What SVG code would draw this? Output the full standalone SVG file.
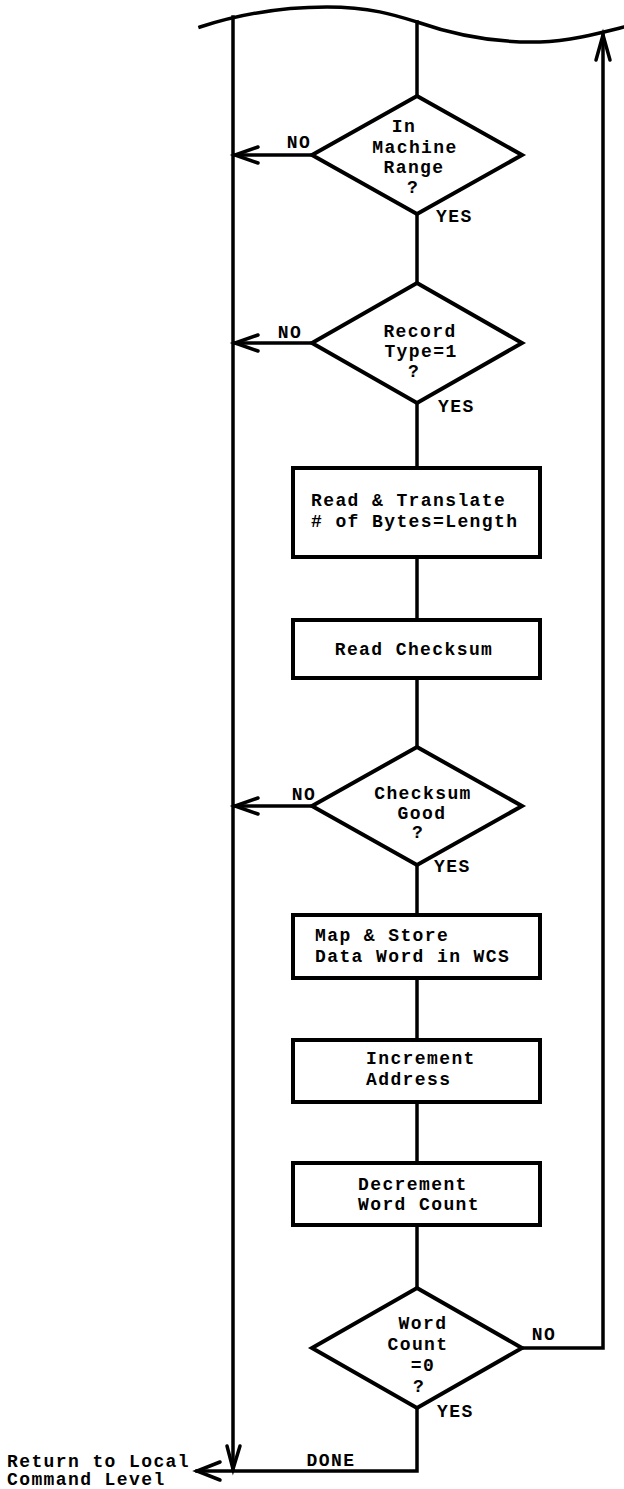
<svg xmlns="http://www.w3.org/2000/svg" width="624" height="1489" viewBox="0 0 624 1489">
<style>
text{font-family:"Liberation Mono","DejaVu Sans Mono",monospace;font-size:18px;font-weight:bold;letter-spacing:1.4px;fill:#000}
.m{text-anchor:middle}
.shape{fill:#fff;stroke:#000;stroke-width:4;stroke-linejoin:miter}
.ln{fill:none;stroke:#000;stroke-width:3.5;stroke-linejoin:miter;stroke-linecap:square}
.ah{fill:none;stroke:#000;stroke-width:3.5;stroke-linecap:round;stroke-linejoin:miter}
</style>
<rect width="624" height="1489" fill="#fff"/>
<g id="connectors">
<path class="ln" d="M200,27 C240,14 280,7 327,7 C370,7 395,15 417,22 C460,37 500,43 540,42 C570,41 600,33 624,27"/>
<path class="ln" d="M233,17 V1469"/>
<path class="ah" d="M227,1446 L233,1469 L240,1446"/>
<path class="ln" d="M417,22 V96"/>
<path class="ln" d="M417,214 V283"/>
<path class="ln" d="M417,403 V468"/>
<path class="ln" d="M417,557 V620"/>
<path class="ln" d="M417,678 V747"/>
<path class="ln" d="M417,865 V915"/>
<path class="ln" d="M417,978 V1040"/>
<path class="ln" d="M417,1102 V1163"/>
<path class="ln" d="M417,1225 V1288"/>
<path class="ln" d="M312,155 H235"/>
<path class="ah" d="M258,147 L235,155 L258,163"/>
<path class="ln" d="M312,343 H235"/>
<path class="ah" d="M258,335 L235,343 L258,351"/>
<path class="ln" d="M312,806 H235"/>
<path class="ah" d="M258,798 L235,806 L258,814"/>
<path class="ln" d="M522,1348 H603 V35"/>
<path class="ah" d="M596,60 L603,35 L610,60"/>
<path class="ln" d="M417,1408 V1471 H197"/>
<path class="ah" d="M220,1462 L197,1471 L220,1480"/>
<text class="m" x="299" y="148">NO</text>
<text x="436" y="222">YES</text>
<text class="m" x="290" y="338">NO</text>
<text x="438" y="412">YES</text>
<text class="m" x="304" y="800">NO</text>
<text x="434" y="872">YES</text>
<text class="m" x="544" y="1340">NO</text>
<text x="437" y="1417">YES</text>
<text class="m" x="331" y="1466">DONE</text>
</g>
<g id="d1">
<polygon class="shape" points="417,96 522,155 417,214 312,155"/>
<text class="m" x="404" y="132">In</text>
<text class="m" x="415" y="153">Machine</text>
<text class="m" x="414" y="173">Range</text>
<text class="m" x="413" y="193">?</text>
</g>
<g id="d2">
<polygon class="shape" points="417,283 522,343 417,403 312,343"/>
<text class="m" x="420" y="337">Record</text>
<text class="m" x="421" y="357">Type=1</text>
<text class="m" x="414" y="377">?</text>
</g>
<g id="b1">
<rect class="shape" x="293" y="468" width="247" height="89"/>
<text x="311" y="506">Read &amp; Translate</text>
<text x="311" y="527"># of Bytes=Length</text>
</g>
<g id="b2">
<rect class="shape" x="293" y="620" width="247" height="58"/>
<text class="m" x="414" y="655">Read Checksum</text>
</g>
<g id="d3">
<polygon class="shape" points="417,747 522,806 417,865 312,806"/>
<text class="m" x="423" y="799">Checksum</text>
<text class="m" x="422" y="819">Good</text>
<text class="m" x="418" y="838">?</text>
</g>
<g id="b3">
<rect class="shape" x="293" y="915" width="247" height="63"/>
<text x="315" y="941">Map &amp; Store</text>
<text x="315" y="962">Data Word in WCS</text>
</g>
<g id="b4">
<rect class="shape" x="293" y="1040" width="247" height="62"/>
<text x="366" y="1064">Increment</text>
<text x="366" y="1085">Address</text>
</g>
<g id="b5">
<rect class="shape" x="293" y="1163" width="247" height="62"/>
<text x="358" y="1190">Decrement</text>
<text x="358" y="1210">Word Count</text>
</g>
<g id="d4">
<polygon class="shape" points="417,1288 522,1348 417,1408 312,1348"/>
<text class="m" x="423" y="1329">Word</text>
<text class="m" x="418" y="1350">Count</text>
<text class="m" x="423" y="1371">=0</text>
<text class="m" x="419" y="1392">?</text>
</g>
<g id="exit">
<text x="7" y="1467">Return to Local</text>
<text x="7" y="1485">Command Level</text>
</g>
</svg>
